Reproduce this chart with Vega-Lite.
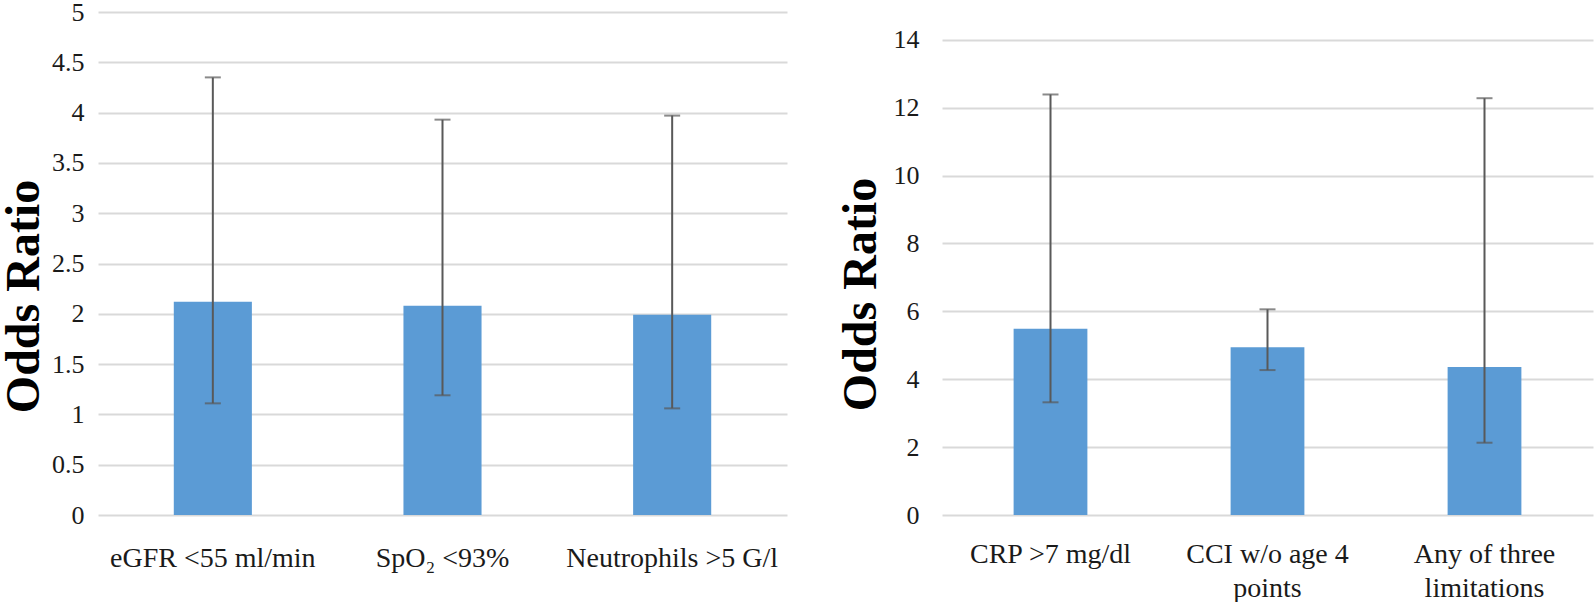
{
  "$schema": "https://vega.github.io/schema/vega-lite/v6.json",
  "padding": {"left": 0, "top": -1, "right": 2, "bottom": 0},
  "background": "white",
  "bounds": "flush",
  "spacing": 155,
  "config": {
    "view": {"stroke": null},
    "font": "Liberation Serif",
    "axis": {"labelFont": "Liberation Serif", "titleFont": "Liberation Serif", "labelColor": "#1a1a1a", "titleColor": "#000000"},
    "axisY": {"labelFontSize": 26, "titleFontSize": 48, "titleFontWeight": "bold", "grid": true, "gridColor": "#d9d9d9", "gridWidth": 2, "domain": false, "ticks": false},
    "axisX": {"labelFontSize": 28, "labelAngle": 0, "labelBaseline": "top", "ticks": false, "domain": false, "labelLimit": 400, "grid": false}
  },
  "datasets": {
    "left": [
      {"factor": "eGFR <55 ml/min", "or": 2.12, "lo": 1.11, "hi": 4.35},
      {"factor": "SpO₂ <93%", "or": 2.08, "lo": 1.19, "hi": 3.93},
      {"factor": "Neutrophils >5 G/l", "or": 1.99, "lo": 1.06, "hi": 3.97}
    ],
    "right": [
      {"factor": "CRP >7 mg/dl", "or": 5.49, "lo": 3.32, "hi": 12.39},
      {"factor": "CCI w/o age 4 points", "or": 4.94, "lo": 4.27, "hi": 6.06},
      {"factor": "Any of three limitations", "or": 4.36, "lo": 2.13, "hi": 12.28}
    ]
  },
  "hconcat": [
    {
      "width": 689,
      "height": 503,
      "data": {"name": "left"},
      "encoding": {
        "x": {
          "field": "factor", "type": "nominal", "sort": null,
          "scale": {"paddingInner": 0, "paddingOuter": 0},
          "axis": {"title": null, "labelPadding": 29}
        }
      },
      "layer": [
        {
          "mark": {"type": "bar", "color": "#5B9BD5", "width": {"band": 0.34}},
          "encoding": {
            "y": {
              "field": "or", "type": "quantitative", "title": "Odds Ratio",
              "scale": {"domain": [0, 5], "nice": false},
              "axis": {"titlePadding": 3, "titleY": 284, "labelFontSize": 26, "labelPadding": 14, "values": [0, 0.5, 1, 1.5, 2, 2.5, 3, 3.5, 4, 4.5, 5], "format": "~g"}
            }
          }
        },
        {
          "mark": {"type": "rule", "color": "#595959", "strokeWidth": 2},
          "encoding": {"y": {"field": "lo", "type": "quantitative", "title": "Odds Ratio", "axis": {"titlePadding": 3, "titleY": 284, "labelFontSize": 26, "labelPadding": 14, "values": [0, 0.5, 1, 1.5, 2, 2.5, 3, 3.5, 4, 4.5, 5], "format": "~g"}}, "y2": {"field": "hi"}}
        },
        {
          "mark": {"type": "tick", "color": "#595959", "size": 16, "thickness": 2},
          "encoding": {"y": {"field": "lo", "type": "quantitative", "title": "Odds Ratio", "axis": {"titlePadding": 3, "titleY": 284, "labelFontSize": 26, "labelPadding": 14, "values": [0, 0.5, 1, 1.5, 2, 2.5, 3, 3.5, 4, 4.5, 5], "format": "~g"}}}
        },
        {
          "mark": {"type": "tick", "color": "#595959", "size": 16, "thickness": 2},
          "encoding": {"y": {"field": "hi", "type": "quantitative", "title": "Odds Ratio", "axis": {"titlePadding": 3, "titleY": 284, "labelFontSize": 26, "labelPadding": 14, "values": [0, 0.5, 1, 1.5, 2, 2.5, 3, 3.5, 4, 4.5, 5], "format": "~g"}}}
        }
      ]
    },
    {
      "width": 651,
      "height": 503,
      "data": {"name": "right"},
      "encoding": {
        "x": {
          "field": "factor", "type": "nominal", "sort": null,
          "scale": {"paddingInner": 0, "paddingOuter": 0},
          "axis": {"title": null, "labelPadding": 25, "labelLineHeight": 34,
            "labelExpr": "datum.value == 'CCI w/o age 4 points' ? ['CCI w/o age 4', 'points'] : datum.value == 'Any of three limitations' ? ['Any of three', 'limitations'] : datum.value"}
        }
      },
      "layer": [
        {
          "mark": {"type": "bar", "color": "#5B9BD5", "width": {"band": 0.34}},
          "encoding": {
            "y": {
              "field": "or", "type": "quantitative", "title": "Odds Ratio",
              "scale": {"domain": [0, 14.82], "nice": false},
              "axis": {"titlePadding": 8, "titleY": 282, "labelFontSize": 26, "labelPadding": 23, "values": [0, 2, 4, 6, 8, 10, 12, 14], "format": "d"}
            }
          }
        },
        {
          "mark": {"type": "rule", "color": "#595959", "strokeWidth": 2},
          "encoding": {"y": {"field": "lo", "type": "quantitative", "title": "Odds Ratio", "axis": {"titlePadding": 8, "titleY": 282, "labelFontSize": 26, "labelPadding": 23, "values": [0, 2, 4, 6, 8, 10, 12, 14], "format": "d"}}, "y2": {"field": "hi"}}
        },
        {
          "mark": {"type": "tick", "color": "#595959", "size": 16, "thickness": 2},
          "encoding": {"y": {"field": "lo", "type": "quantitative", "title": "Odds Ratio", "axis": {"titlePadding": 8, "titleY": 282, "labelFontSize": 26, "labelPadding": 23, "values": [0, 2, 4, 6, 8, 10, 12, 14], "format": "d"}}}
        },
        {
          "mark": {"type": "tick", "color": "#595959", "size": 16, "thickness": 2},
          "encoding": {"y": {"field": "hi", "type": "quantitative", "title": "Odds Ratio", "axis": {"titlePadding": 8, "titleY": 282, "labelFontSize": 26, "labelPadding": 23, "values": [0, 2, 4, 6, 8, 10, 12, 14], "format": "d"}}}
        }
      ]
    }
  ]
}
